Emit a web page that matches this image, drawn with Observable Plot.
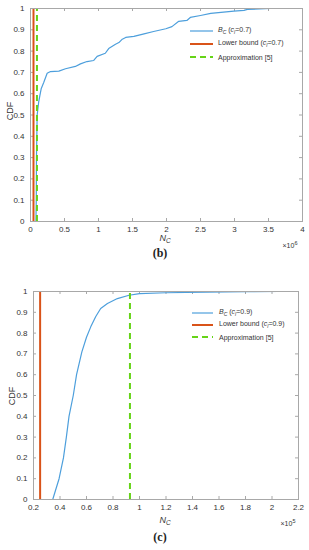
<!DOCTYPE html>
<html><head><meta charset="utf-8">
<script src="https://cdn.jsdelivr.net/npm/d3@7"></script>
<script src="https://cdn.jsdelivr.net/npm/@observablehq/plot@0.6"></script>
<style>
body{margin:0;background:#fff;}
#wrap{position:relative;width:309px;height:550px;overflow:hidden;font-family:"Liberation Sans",Arial,sans-serif;color:#333;}
.abs{position:absolute;white-space:nowrap;line-height:1;}
.plot{position:absolute;left:0;}
.leg{position:absolute;font-size:7px;color:#333;}
.row{position:absolute;display:flex;align-items:center;white-space:nowrap;}
.cap{font-family:"Liberation Serif","DejaVu Serif",serif;font-weight:bold;font-size:12px;color:#222;}
</style></head><body><div id="wrap"></div>
<script>
// ---------- data ----------
const yTicks = [0,0.1,0.2,0.3,0.4,0.5,0.6,0.7,0.8,0.9,1];
// panel (b): x in units of 1e6
const bTicks = [0,0.5,1,1.5,2,2.5,3,3.5,4];
const bCurveX = [0.08,0.085,0.088,0.098,0.12,0.137,0.157,0.196,0.245,0.294,0.417,0.515,0.66,0.735,0.83,0.93,0.98,1.10,1.15,1.25,1.30,1.35,1.40,1.52,1.67,1.81,1.99,2.08,2.18,2.30,2.35,2.5,2.65,2.99,3.14,3.19,3.53];
const bCurveY = [0,0.1,0.3,0.5,0.56,0.59,0.623,0.654,0.696,0.704,0.706,0.717,0.728,0.74,0.751,0.756,0.775,0.79,0.812,0.832,0.84,0.856,0.864,0.869,0.881,0.892,0.905,0.915,0.94,0.944,0.958,0.967,0.977,0.988,0.991,0.996,1.0];
const bLower = 0.044;
const bApprox = 0.095;
// panel (c): x in units of 1e5
const cTicks = [0.2,0.4,0.6,0.8,1,1.2,1.4,1.6,1.8,2,2.2];
const cCurveX = [0.345,0.393,0.426,0.448,0.468,0.50,0.525,0.565,0.60,0.632,0.67,0.707,0.758,0.833,0.921,1.0,1.2,1.5,1.8,2.05];
const cCurveY = [0,0.1,0.2,0.3,0.4,0.5,0.6,0.71,0.78,0.83,0.88,0.918,0.942,0.966,0.982,0.99,0.994,0.997,0.999,1.0];
const cLower = 0.25;
const cApprox = 0.928;

const BLUE = "#4d9fdc", RED = "#d95319", GREEN = "#66d417", AX = "#a8a8a8";
const fmt = d => String(+d.toFixed(1));

function panel({ticks, domain, xs, ys, lower, approx, top, height, mt, mb, ml, mr, pad}) {
  const pts = xs.map((x, i) => ({x, y: ys[i]}));
  const span = domain[1] - domain[0];
  const plotW = 309 - ml - mr;
  const tx = span * 3 / plotW;
  const ty = 3 / (height - mt - mb);
  const p = Plot.plot({
    width: 309, height, marginTop: mt, marginBottom: mb, marginLeft: ml, marginRight: mr,
    style: {fontSize: "8px", fontFamily: "Liberation Sans, Arial, sans-serif", color: "#333", background: "transparent", overflow: "visible"},
    x: {domain, label: null},
    y: {domain: [0, 1], label: null},
    marks: [
      Plot.ruleX(ticks, {y1: 0, y2: ty, stroke: AX}),
      Plot.ruleX(ticks, {y1: 1, y2: 1 - ty, stroke: AX}),
      Plot.ruleY(yTicks, {x1: domain[0], x2: domain[0] + tx, stroke: AX}),
      Plot.ruleY(yTicks, {x1: domain[1], x2: domain[1] - tx, stroke: AX}),
      Plot.axisX({ticks, tickSize: 0, tickPadding: pad, tickFormat: fmt, label: null}),
      Plot.axisY({ticks: yTicks, tickSize: 0, tickPadding: 6, tickFormat: fmt, label: null}),
      Plot.line(pts, {x: "x", y: "y", stroke: BLUE, strokeWidth: 1.2}),
      Plot.ruleX([lower], {y1: 0, y2: 1, stroke: RED, strokeWidth: 2}),
      Plot.ruleX([approx], {y1: 0, y2: 1, stroke: GREEN, strokeWidth: 2, strokeDasharray: "6,4"}),
      Plot.frame({stroke: AX})
    ]
  });
  p.classList.add("plot");
  p.style.top = top + "px";
  return p;
}

const wrap = document.getElementById("wrap");
wrap.appendChild(panel({ticks: bTicks, domain: [0, 4], xs: bCurveX, ys: bCurveY, lower: bLower, approx: bApprox,
  top: 0, height: 250, mt: 8, mb: 29, ml: 30, mr: 7, pad: 5}));
wrap.appendChild(panel({ticks: cTicks, domain: [0.2, 2.2], xs: cCurveX, ys: cCurveY, lower: cLower, approx: cApprox,
  top: 270, height: 250, mt: 21, mb: 21, ml: 33, mr: 11, pad: 4.5}));

function addText(html, x, y, cls, extra, size) {
  const d = document.createElement("div");
  d.className = "abs " + (cls || "");
  d.innerHTML = html;
  d.style.left = x + "px"; d.style.top = y + "px";
  if (size) d.style.fontSize = size;
  d.style.transform = "translate(-50%,-50%)" + (extra || "");
  wrap.appendChild(d);
}
const NC = '<i>N</i><sub style="font-size:6.5px;font-style:italic;vertical-align:-2px">C</sub>';
addText(NC, 165, 239, "", "", "9px");
addText(NC, 165, 521, "", "", "9px");
addText('×10<sup style="font-size:5.5px;vertical-align:3px">6</sup>', 290, 245, "", "", "7px");
addText('×10<sup style="font-size:5.5px;vertical-align:3px">5</sup>', 288, 523, "", "", "7px");
addText('CDF', 10, 111, "", " rotate(-90deg)", "9px");
addText('CDF', 12, 396, "", " rotate(-90deg)", "9px");
addText('(b)', 160, 253, "cap");
addText('(c)', 160, 537, "cap");

function legend(sx0, sx1, tx, ys, label) {
  const items = [
    {html: '<i>B</i><sub style="font-size:5px;font-style:italic">C</sub> (<i>c</i><sub style="font-size:5px;font-style:italic">l</sub>=' + label + ')', stroke: BLUE, w: 1.2, dash: ""},
    {html: 'Lower bound (<i>c</i><sub style="font-size:5px;font-style:italic">l</sub>=' + label + ')', stroke: RED, w: 2, dash: ""},
    {html: 'Approximation [5]', stroke: GREEN, w: 2, dash: "6,4"}
  ];
  items.forEach((it, i) => {
    const r = document.createElement("div");
    r.className = "row leg";
    r.style.left = sx0 + "px"; r.style.top = (ys[i] - 5) + "px"; r.style.height = "10px";
    const w = sx1 - sx0;
    r.innerHTML = `<svg width="${w}" height="10" style="display:block"><line x1="0" x2="${w}" y1="5" y2="5" stroke="${it.stroke}" stroke-width="${it.w}" stroke-dasharray="${it.dash}"/></svg><span style="margin-left:${tx - sx1}px">${it.html}</span>`;
    wrap.appendChild(r);
  });
}
legend(190, 213, 218, [31, 44, 57], "0.7");
legend(192, 213, 219, [313, 325, 337], "0.9");
</script></body></html>
